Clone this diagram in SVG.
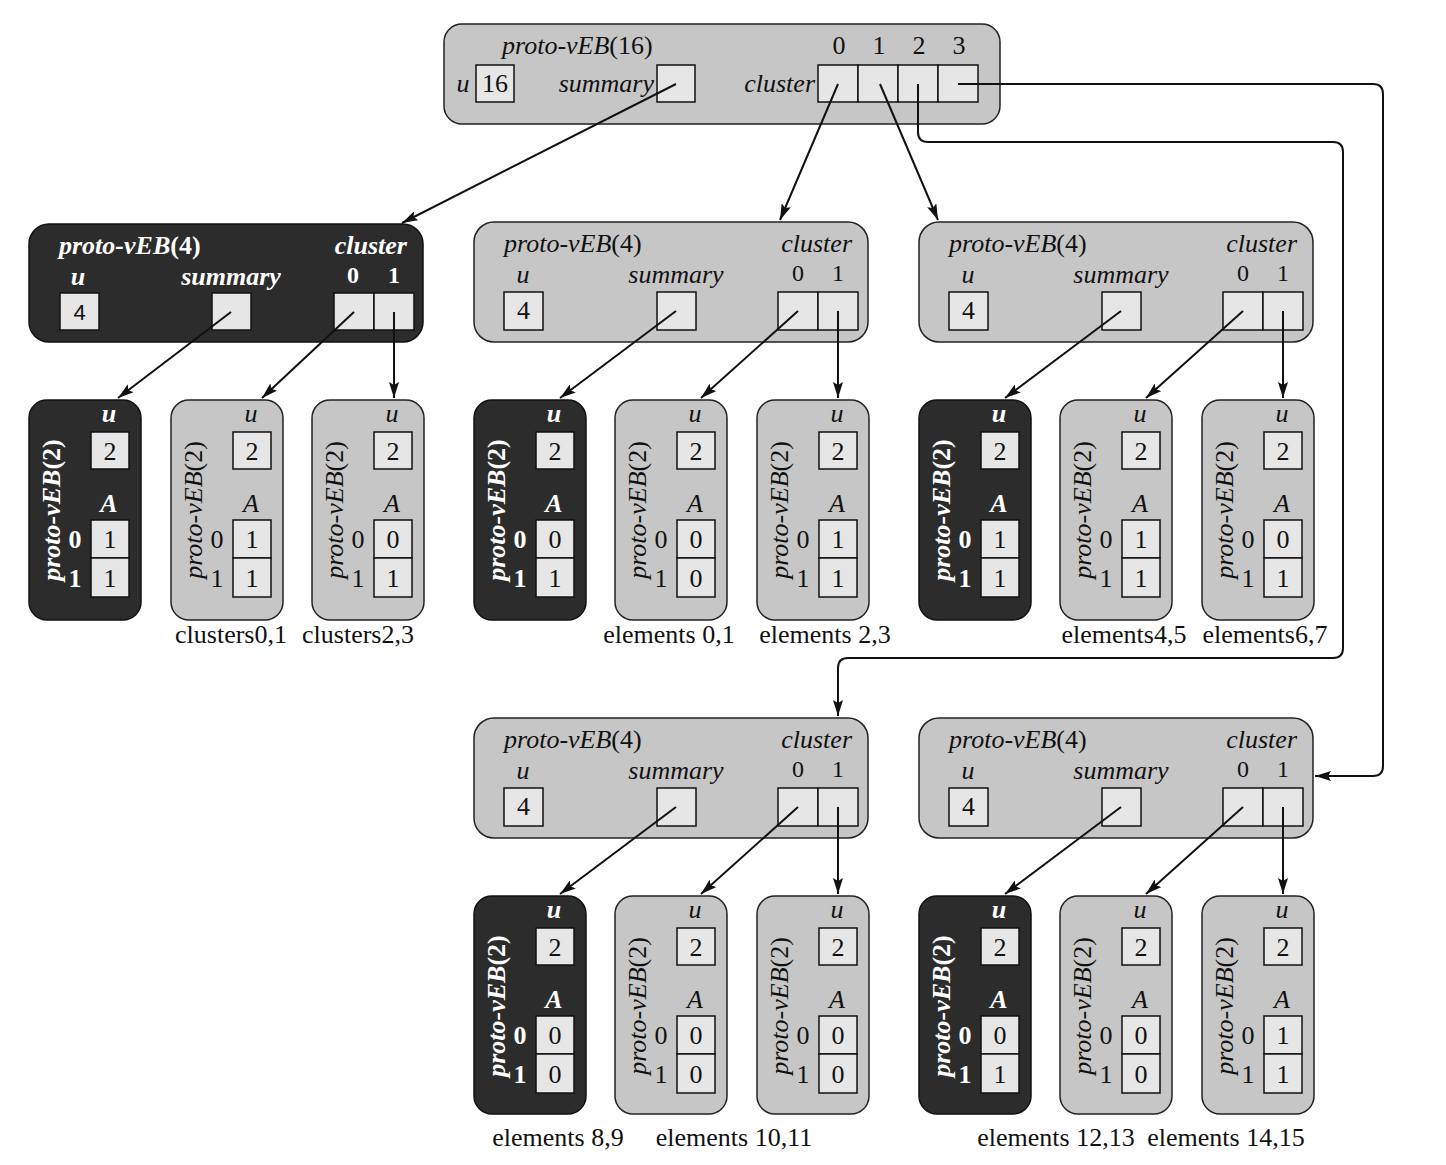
<svg xmlns="http://www.w3.org/2000/svg" width="1446" height="1165" viewBox="0 0 1446 1165">
<style>
.lt{fill:#c6c6c6;stroke:#222;stroke-width:1.5}
.dk{fill:#2c2c2c;stroke:#111;stroke-width:1.5}
.bx{fill:#e6e6e6;stroke:#111;stroke-width:1.5}
.t{font-family:"Liberation Serif","DejaVu Serif",serif;font-size:26px;fill:#111}
.s{font-size:24px}
.i{font-style:italic}
.n{font-style:normal}
.c{text-anchor:middle}
.e{text-anchor:end}
.w{fill:#fff;font-weight:bold}
.ar{fill:none;stroke:#111;stroke-width:2;marker-end:url(#ah)}
</style>
<defs>
<marker id="ah" viewBox="0 0 16 10" refX="16" refY="5" markerWidth="16" markerHeight="10" markerUnits="userSpaceOnUse" orient="auto">
<path d="M0,0 L16,5 L0,10 L3,5 z" fill="#111"/>
</marker>
</defs>
<rect width="1446" height="1165" fill="#fff"/>

<g id="root">
<rect x="444" y="24" width="556" height="100" rx="18" class="lt"/>
<text x="502" y="54" class="t i">proto-vEB<tspan class="n">(16)</tspan></text>
<text x="839" y="54" class="t c">0</text>
<text x="879" y="54" class="t c">1</text>
<text x="919" y="54" class="t c">2</text>
<text x="959" y="54" class="t c">3</text>
<text x="463" y="92" class="t i c">u</text>
<rect x="476" y="65" width="38" height="37" class="bx"/>
<text x="495" y="92" class="t c">16</text>
<text x="654" y="92" class="t i e">summary</text>
<rect x="657" y="65" width="38" height="37" class="bx"/>
<text x="815" y="92" class="t i e">cluster</text>
<rect x="818" y="65" width="40" height="37" class="bx"/>
<rect x="858" y="65" width="40" height="37" class="bx"/>
<rect x="898" y="65" width="40" height="37" class="bx"/>
<rect x="938" y="65" width="40" height="37" class="bx"/>
</g>

<g id="summary16">
<rect x="29" y="224" width="394" height="118" rx="20" class="dk"/>
<text x="59" y="254" class="t i w">proto-vEB<tspan class="n">(4)</tspan></text>
<text x="407" y="254" class="t i e w">cluster</text>
<text x="78" y="285" class="t i c w">u</text>
<text x="231" y="285" class="t i c w">summary</text>
<text x="353" y="283" class="t s c w">0</text>
<text x="394" y="283" class="t s c w">1</text>
<rect x="60" y="293" width="39" height="37" class="bx"/>
<text x="79.5" y="320" class="t c" style="font-family:'Liberation Sans',sans-serif;font-size:22px">4</text>
<rect x="212" y="293" width="39" height="37" class="bx"/>
<rect x="334" y="293" width="40" height="37" class="bx"/>
<rect x="374" y="293" width="40" height="37" class="bx"/>
</g>

<g id="cluster0">
<rect x="474" y="222" width="394" height="120" rx="20" class="lt"/>
<text x="504" y="252" class="t i">proto-vEB<tspan class="n">(4)</tspan></text>
<text x="852" y="252" class="t i e">cluster</text>
<text x="523" y="283" class="t i c">u</text>
<text x="676" y="283" class="t i c">summary</text>
<text x="798" y="281" class="t s c">0</text>
<text x="838" y="281" class="t s c">1</text>
<rect x="504" y="292" width="39" height="38" class="bx"/>
<text x="523.5" y="319" class="t c">4</text>
<rect x="657" y="292" width="39" height="38" class="bx"/>
<rect x="778" y="292" width="40" height="38" class="bx"/>
<rect x="818" y="292" width="40" height="38" class="bx"/>
</g>

<g id="cluster1">
<rect x="919" y="222" width="394" height="120" rx="20" class="lt"/>
<text x="949" y="252" class="t i">proto-vEB<tspan class="n">(4)</tspan></text>
<text x="1297" y="252" class="t i e">cluster</text>
<text x="968" y="283" class="t i c">u</text>
<text x="1121" y="283" class="t i c">summary</text>
<text x="1243" y="281" class="t s c">0</text>
<text x="1283" y="281" class="t s c">1</text>
<rect x="949" y="292" width="39" height="38" class="bx"/>
<text x="968.5" y="319" class="t c">4</text>
<rect x="1102" y="292" width="39" height="38" class="bx"/>
<rect x="1223" y="292" width="40" height="38" class="bx"/>
<rect x="1263" y="292" width="40" height="38" class="bx"/>
</g>

<g id="cluster2">
<rect x="474" y="718" width="394" height="120" rx="20" class="lt"/>
<text x="504" y="748" class="t i">proto-vEB<tspan class="n">(4)</tspan></text>
<text x="852" y="748" class="t i e">cluster</text>
<text x="523" y="779" class="t i c">u</text>
<text x="676" y="779" class="t i c">summary</text>
<text x="798" y="777" class="t s c">0</text>
<text x="838" y="777" class="t s c">1</text>
<rect x="504" y="788" width="39" height="38" class="bx"/>
<text x="523.5" y="815" class="t c">4</text>
<rect x="657" y="788" width="39" height="38" class="bx"/>
<rect x="778" y="788" width="40" height="38" class="bx"/>
<rect x="818" y="788" width="40" height="38" class="bx"/>
</g>

<g id="cluster3">
<rect x="919" y="718" width="394" height="120" rx="20" class="lt"/>
<text x="949" y="748" class="t i">proto-vEB<tspan class="n">(4)</tspan></text>
<text x="1297" y="748" class="t i e">cluster</text>
<text x="968" y="779" class="t i c">u</text>
<text x="1121" y="779" class="t i c">summary</text>
<text x="1243" y="777" class="t s c">0</text>
<text x="1283" y="777" class="t s c">1</text>
<rect x="949" y="788" width="39" height="38" class="bx"/>
<text x="968.5" y="815" class="t c">4</text>
<rect x="1102" y="788" width="39" height="38" class="bx"/>
<rect x="1223" y="788" width="40" height="38" class="bx"/>
<rect x="1263" y="788" width="40" height="38" class="bx"/>
</g>

<!-- proto-vEB(2) row 1 -->
<g id="sA0">
<rect x="29" y="400" width="112" height="220" rx="18" class="dk"/>
<text x="109" y="422" class="t i c w">u</text>
<rect x="91" y="432" width="38" height="37" class="bx"/><text x="110" y="460" class="t c">2</text>
<text x="109" y="512" class="t i c w">A</text>
<rect x="91" y="520" width="38" height="38" class="bx"/><rect x="91" y="558" width="38" height="39" class="bx"/>
<text x="110" y="548" class="t c">1</text><text x="110" y="587" class="t c">1</text>
<text x="75" y="548" class="t c w">0</text><text x="75" y="587" class="t c w">1</text>
<text transform="translate(60,510) rotate(-90)" class="t i c w">proto-vEB<tspan class="n">(2)</tspan></text>
</g>
<g id="sA1">
<rect x="171" y="400" width="112" height="220" rx="18" class="lt"/>
<text x="251" y="422" class="t i c">u</text>
<rect x="233" y="432" width="38" height="37" class="bx"/><text x="252" y="460" class="t c">2</text>
<text x="251" y="512" class="t i c">A</text>
<rect x="233" y="520" width="38" height="38" class="bx"/><rect x="233" y="558" width="38" height="39" class="bx"/>
<text x="252" y="548" class="t c">1</text><text x="252" y="587" class="t c">1</text>
<text x="217" y="548" class="t c">0</text><text x="217" y="587" class="t c">1</text>
<text transform="translate(202,510) rotate(-90)" class="t i c">proto-vEB<tspan class="n">(2)</tspan></text>
</g>
<g id="sA2">
<rect x="312" y="400" width="112" height="220" rx="18" class="lt"/>
<text x="392" y="422" class="t i c">u</text>
<rect x="374" y="432" width="38" height="37" class="bx"/><text x="393" y="460" class="t c">2</text>
<text x="392" y="512" class="t i c">A</text>
<rect x="374" y="520" width="38" height="38" class="bx"/><rect x="374" y="558" width="38" height="39" class="bx"/>
<text x="393" y="548" class="t c">0</text><text x="393" y="587" class="t c">1</text>
<text x="358" y="548" class="t c">0</text><text x="358" y="587" class="t c">1</text>
<text transform="translate(343,510) rotate(-90)" class="t i c">proto-vEB<tspan class="n">(2)</tspan></text>
</g>

<g id="sB0">
<rect x="474" y="400" width="112" height="220" rx="18" class="dk"/>
<text x="554" y="422" class="t i c w">u</text>
<rect x="536" y="432" width="38" height="37" class="bx"/><text x="555" y="460" class="t c">2</text>
<text x="554" y="512" class="t i c w">A</text>
<rect x="536" y="520" width="38" height="38" class="bx"/><rect x="536" y="558" width="38" height="39" class="bx"/>
<text x="555" y="548" class="t c">0</text><text x="555" y="587" class="t c">1</text>
<text x="520" y="548" class="t c w">0</text><text x="520" y="587" class="t c w">1</text>
<text transform="translate(505,510) rotate(-90)" class="t i c w">proto-vEB<tspan class="n">(2)</tspan></text>
</g>
<g id="sB1">
<rect x="615" y="400" width="112" height="220" rx="18" class="lt"/>
<text x="695" y="422" class="t i c">u</text>
<rect x="677" y="432" width="38" height="37" class="bx"/><text x="696" y="460" class="t c">2</text>
<text x="695" y="512" class="t i c">A</text>
<rect x="677" y="520" width="38" height="38" class="bx"/><rect x="677" y="558" width="38" height="39" class="bx"/>
<text x="696" y="548" class="t c">0</text><text x="696" y="587" class="t c">0</text>
<text x="661" y="548" class="t c">0</text><text x="661" y="587" class="t c">1</text>
<text transform="translate(646,510) rotate(-90)" class="t i c">proto-vEB<tspan class="n">(2)</tspan></text>
</g>
<g id="sB2">
<rect x="757" y="400" width="112" height="220" rx="18" class="lt"/>
<text x="837" y="422" class="t i c">u</text>
<rect x="819" y="432" width="38" height="37" class="bx"/><text x="838" y="460" class="t c">2</text>
<text x="837" y="512" class="t i c">A</text>
<rect x="819" y="520" width="38" height="38" class="bx"/><rect x="819" y="558" width="38" height="39" class="bx"/>
<text x="838" y="548" class="t c">1</text><text x="838" y="587" class="t c">1</text>
<text x="803" y="548" class="t c">0</text><text x="803" y="587" class="t c">1</text>
<text transform="translate(788,510) rotate(-90)" class="t i c">proto-vEB<tspan class="n">(2)</tspan></text>
</g>

<g id="sC0">
<rect x="919" y="400" width="112" height="220" rx="18" class="dk"/>
<text x="999" y="422" class="t i c w">u</text>
<rect x="981" y="432" width="38" height="37" class="bx"/><text x="1000" y="460" class="t c">2</text>
<text x="999" y="512" class="t i c w">A</text>
<rect x="981" y="520" width="38" height="38" class="bx"/><rect x="981" y="558" width="38" height="39" class="bx"/>
<text x="1000" y="548" class="t c">1</text><text x="1000" y="587" class="t c">1</text>
<text x="965" y="548" class="t c w">0</text><text x="965" y="587" class="t c w">1</text>
<text transform="translate(950,510) rotate(-90)" class="t i c w">proto-vEB<tspan class="n">(2)</tspan></text>
</g>
<g id="sC1">
<rect x="1060" y="400" width="112" height="220" rx="18" class="lt"/>
<text x="1140" y="422" class="t i c">u</text>
<rect x="1122" y="432" width="38" height="37" class="bx"/><text x="1141" y="460" class="t c">2</text>
<text x="1140" y="512" class="t i c">A</text>
<rect x="1122" y="520" width="38" height="38" class="bx"/><rect x="1122" y="558" width="38" height="39" class="bx"/>
<text x="1141" y="548" class="t c">1</text><text x="1141" y="587" class="t c">1</text>
<text x="1106" y="548" class="t c">0</text><text x="1106" y="587" class="t c">1</text>
<text transform="translate(1091,510) rotate(-90)" class="t i c">proto-vEB<tspan class="n">(2)</tspan></text>
</g>
<g id="sC2">
<rect x="1202" y="400" width="112" height="220" rx="18" class="lt"/>
<text x="1282" y="422" class="t i c">u</text>
<rect x="1264" y="432" width="38" height="37" class="bx"/><text x="1283" y="460" class="t c">2</text>
<text x="1282" y="512" class="t i c">A</text>
<rect x="1264" y="520" width="38" height="38" class="bx"/><rect x="1264" y="558" width="38" height="39" class="bx"/>
<text x="1283" y="548" class="t c">0</text><text x="1283" y="587" class="t c">1</text>
<text x="1248" y="548" class="t c">0</text><text x="1248" y="587" class="t c">1</text>
<text transform="translate(1233,510) rotate(-90)" class="t i c">proto-vEB<tspan class="n">(2)</tspan></text>
</g>

<!-- proto-vEB(2) row 2 -->
<g id="sD0">
<rect x="474" y="896" width="112" height="218" rx="18" class="dk"/>
<text x="554" y="918" class="t i c w">u</text>
<rect x="536" y="928" width="38" height="37" class="bx"/><text x="555" y="956" class="t c">2</text>
<text x="554" y="1008" class="t i c w">A</text>
<rect x="536" y="1016" width="38" height="38" class="bx"/><rect x="536" y="1054" width="38" height="39" class="bx"/>
<text x="555" y="1044" class="t c">0</text><text x="555" y="1083" class="t c">0</text>
<text x="520" y="1044" class="t c w">0</text><text x="520" y="1083" class="t c w">1</text>
<text transform="translate(505,1006) rotate(-90)" class="t i c w">proto-vEB<tspan class="n">(2)</tspan></text>
</g>
<g id="sD1">
<rect x="615" y="896" width="112" height="218" rx="18" class="lt"/>
<text x="695" y="918" class="t i c">u</text>
<rect x="677" y="928" width="38" height="37" class="bx"/><text x="696" y="956" class="t c">2</text>
<text x="695" y="1008" class="t i c">A</text>
<rect x="677" y="1016" width="38" height="38" class="bx"/><rect x="677" y="1054" width="38" height="39" class="bx"/>
<text x="696" y="1044" class="t c">0</text><text x="696" y="1083" class="t c">0</text>
<text x="661" y="1044" class="t c">0</text><text x="661" y="1083" class="t c">1</text>
<text transform="translate(646,1006) rotate(-90)" class="t i c">proto-vEB<tspan class="n">(2)</tspan></text>
</g>
<g id="sD2">
<rect x="757" y="896" width="112" height="218" rx="18" class="lt"/>
<text x="837" y="918" class="t i c">u</text>
<rect x="819" y="928" width="38" height="37" class="bx"/><text x="838" y="956" class="t c">2</text>
<text x="837" y="1008" class="t i c">A</text>
<rect x="819" y="1016" width="38" height="38" class="bx"/><rect x="819" y="1054" width="38" height="39" class="bx"/>
<text x="838" y="1044" class="t c">0</text><text x="838" y="1083" class="t c">0</text>
<text x="803" y="1044" class="t c">0</text><text x="803" y="1083" class="t c">1</text>
<text transform="translate(788,1006) rotate(-90)" class="t i c">proto-vEB<tspan class="n">(2)</tspan></text>
</g>

<g id="sE0">
<rect x="919" y="896" width="112" height="218" rx="18" class="dk"/>
<text x="999" y="918" class="t i c w">u</text>
<rect x="981" y="928" width="38" height="37" class="bx"/><text x="1000" y="956" class="t c">2</text>
<text x="999" y="1008" class="t i c w">A</text>
<rect x="981" y="1016" width="38" height="38" class="bx"/><rect x="981" y="1054" width="38" height="39" class="bx"/>
<text x="1000" y="1044" class="t c">0</text><text x="1000" y="1083" class="t c">1</text>
<text x="965" y="1044" class="t c w">0</text><text x="965" y="1083" class="t c w">1</text>
<text transform="translate(950,1006) rotate(-90)" class="t i c w">proto-vEB<tspan class="n">(2)</tspan></text>
</g>
<g id="sE1">
<rect x="1060" y="896" width="112" height="218" rx="18" class="lt"/>
<text x="1140" y="918" class="t i c">u</text>
<rect x="1122" y="928" width="38" height="37" class="bx"/><text x="1141" y="956" class="t c">2</text>
<text x="1140" y="1008" class="t i c">A</text>
<rect x="1122" y="1016" width="38" height="38" class="bx"/><rect x="1122" y="1054" width="38" height="39" class="bx"/>
<text x="1141" y="1044" class="t c">0</text><text x="1141" y="1083" class="t c">0</text>
<text x="1106" y="1044" class="t c">0</text><text x="1106" y="1083" class="t c">1</text>
<text transform="translate(1091,1006) rotate(-90)" class="t i c">proto-vEB<tspan class="n">(2)</tspan></text>
</g>
<g id="sE2">
<rect x="1202" y="896" width="112" height="218" rx="18" class="lt"/>
<text x="1282" y="918" class="t i c">u</text>
<rect x="1264" y="928" width="38" height="37" class="bx"/><text x="1283" y="956" class="t c">2</text>
<text x="1282" y="1008" class="t i c">A</text>
<rect x="1264" y="1016" width="38" height="38" class="bx"/><rect x="1264" y="1054" width="38" height="39" class="bx"/>
<text x="1283" y="1044" class="t c">1</text><text x="1283" y="1083" class="t c">1</text>
<text x="1248" y="1044" class="t c">0</text><text x="1248" y="1083" class="t c">1</text>
<text transform="translate(1233,1006) rotate(-90)" class="t i c">proto-vEB<tspan class="n">(2)</tspan></text>
</g>

<g id="labels">
<text x="231" y="643" class="t c">clusters0,1</text>
<text x="358" y="643" class="t c">clusters2,3</text>
<text x="669" y="643" class="t c">elements 0,1</text>
<text x="825" y="643" class="t c">elements 2,3</text>
<text x="1124" y="643" class="t c">elements4,5</text>
<text x="1265" y="643" class="t c">elements6,7</text>
<text x="558" y="1146" class="t c">elements 8,9</text>
<text x="734" y="1146" class="t c">elements 10,11</text>
<text x="1056" y="1146" class="t c">elements 12,13</text>
<text x="1226" y="1146" class="t c">elements 14,15</text>
</g>

<g id="connectors">
<path class="ar" d="M676,84 L402,223"/>
<path class="ar" d="M838,84 L780,220"/>
<path class="ar" d="M880,84 L938,220"/>
<path class="ar" d="M918,84 V132 Q918,142 928,142 H1333 Q1343,142 1343,152 V648 Q1343,658 1333,658 H848 Q838,658 838,668 V716"/>
<path class="ar" d="M958,84 H1373 Q1383,84 1383,94 V766 Q1383,776 1373,776 H1315"/>
<path class="ar" d="M231,312 L118,398"/>
<path class="ar" d="M354,312 L262,398"/>
<path class="ar" d="M394,312 V398"/>
<path class="ar" d="M676,311 L560,398"/>
<path class="ar" d="M798,311 L701,398"/>
<path class="ar" d="M838,311 V398"/>
<path class="ar" d="M1121,311 L1005,398"/>
<path class="ar" d="M1243,311 L1146,398"/>
<path class="ar" d="M1283,311 V398"/>
<path class="ar" d="M676,807 L560,894"/>
<path class="ar" d="M798,807 L701,894"/>
<path class="ar" d="M838,807 V894"/>
<path class="ar" d="M1121,807 L1005,894"/>
<path class="ar" d="M1243,807 L1146,894"/>
<path class="ar" d="M1283,807 V894"/>
</g>
</svg>
